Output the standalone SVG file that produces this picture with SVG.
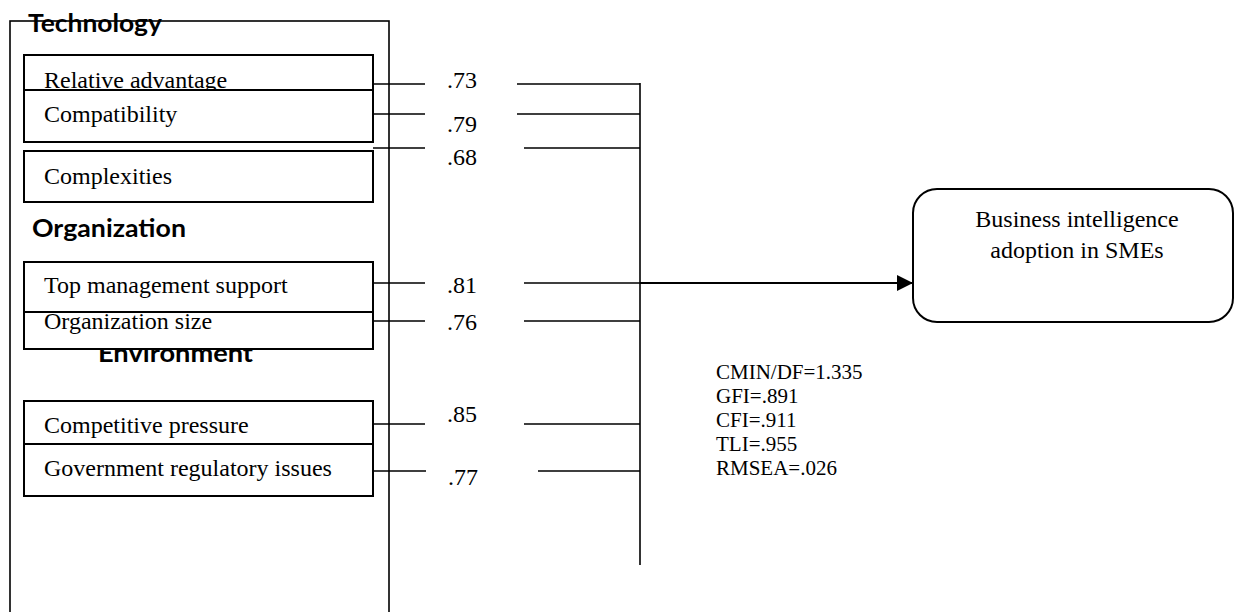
<svg xmlns="http://www.w3.org/2000/svg" width="1234" height="612" viewBox="0 0 1234 612">
<defs>
<style>
.box{fill:#fff;stroke:#000;stroke-width:2}
.outer{fill:none;stroke:#000;stroke-width:1.6}
.t{font-family:"Liberation Serif","Times New Roman",serif;font-size:24px;fill:#000}
.s{font-family:"Liberation Serif","Times New Roman",serif;font-size:21px;fill:#000}
.h{font-family:Lato,"Open Sans",sans-serif;font-weight:bold;font-size:24px;fill:#000}
.ln{stroke:#000;stroke-width:1.6;fill:none}
</style>
<marker id="ah" markerWidth="16" markerHeight="16" refX="16" refY="8" orient="auto" markerUnits="userSpaceOnUse">
<path d="M0,0 L16,8 L0,16 Z" fill="#000"/>
</marker>
</defs>
<rect width="1234" height="612" fill="#fff"/>
<g id="technology-group">
<rect class="outer" x="10" y="21" width="379" height="620"/>
<text class="h" x="28" y="32" textLength="134" lengthAdjust="spacingAndGlyphs">Technology</text>
</g>
<g id="relative-advantage">
<rect class="box" x="24" y="55" width="349" height="52"/>
<text class="t" x="44" y="88">Relative advantage</text>
</g>
<g id="compatibility">
<rect class="box" x="24" y="90" width="349" height="52"/>
<text class="t" x="44" y="122">Compatibility</text>
</g>
<g id="complexities">
<rect class="box" x="24" y="151" width="349" height="51"/>
<text class="t" x="44" y="184">Complexities</text>
</g>
<g id="organization-label">
<text class="h" x="32" y="237" textLength="154" lengthAdjust="spacingAndGlyphs">Organization</text>
</g>
<g id="environment-label">
<text class="h" x="98" y="362" textLength="155" lengthAdjust="spacingAndGlyphs">Environment</text>
</g>
<g id="organization-size">
<rect class="box" x="24" y="297" width="349" height="52"/>
<text class="t" x="44" y="329">Organization size</text>
</g>
<g id="top-management-support">
<rect class="box" x="24" y="262" width="349" height="50"/>
<text class="t" x="44" y="293">Top management support</text>
</g>
<g id="competitive-pressure">
<rect class="box" x="24" y="401" width="349" height="52"/>
<text class="t" x="44" y="433">Competitive pressure</text>
</g>
<g id="government-regulatory-issues">
<rect class="box" x="24" y="444" width="349" height="52"/>
<text class="t" x="44" y="476">Government regulatory issues</text>
</g>
<g id="bi-adoption">
<rect class="box" x="913" y="189" width="320" height="133" rx="24" ry="24"/>
<text class="t" x="1077" y="227" text-anchor="middle">Business intelligence</text>
<text class="t" x="1077" y="258" text-anchor="middle">adoption in SMEs</text>
</g>
<g id="connectors">
<path class="ln" d="M373,84H425 M373,114H425 M373,148H425 M373,283H425 M373,321H425 M373,424H425 M373,471H426"/>
<path class="ln" d="M517,84H640 M517,114H640 M524,148H640 M524,283H640 M524,321H640 M524,424H640 M538,471H640"/>
<path class="ln" d="M640,83V565"/>
<path d="M640,283H913" stroke="#000" stroke-width="2.2" fill="none" marker-end="url(#ah)"/>
</g>
<g id="loadings">
<text class="t" x="447" y="88">.73</text>
<text class="t" x="447" y="132">.79</text>
<text class="t" x="447" y="165">.68</text>
<text class="t" x="447" y="293">.81</text>
<text class="t" x="447" y="330">.76</text>
<text class="t" x="447" y="422">.85</text>
<text class="t" x="448" y="485">.77</text>
</g>
<g id="fit-indices">
<text class="s" x="716" y="379">CMIN/DF=1.335</text>
<text class="s" x="716" y="403">GFI=.891</text>
<text class="s" x="716" y="427">CFI=.911</text>
<text class="s" x="716" y="451">TLI=.955</text>
<text class="s" x="716" y="475">RMSEA=.026</text>
</g>
</svg>
